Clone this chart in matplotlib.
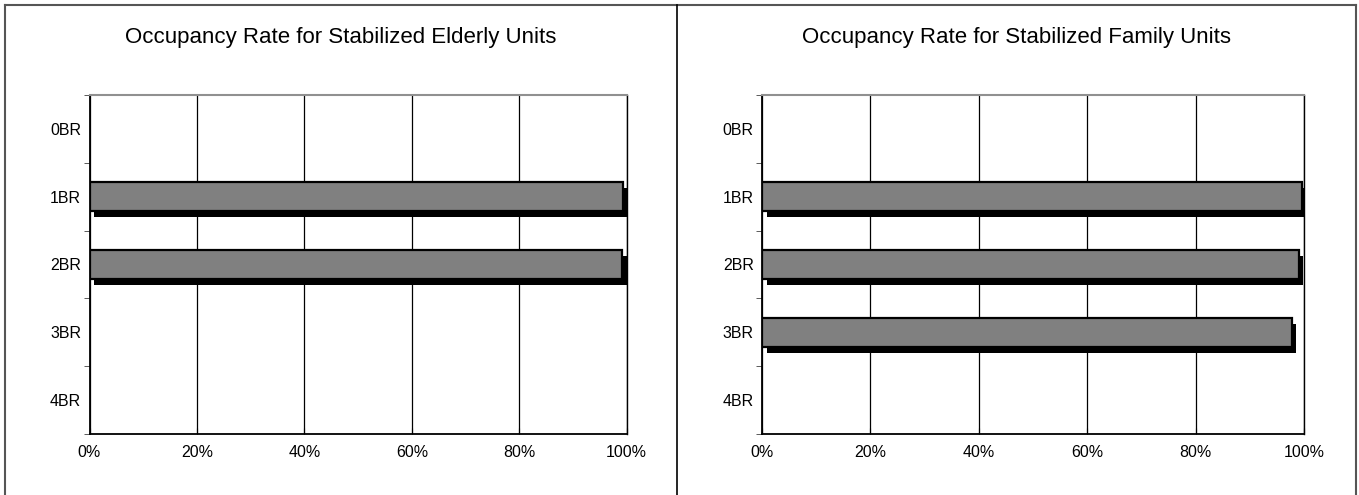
import numpy as np
import matplotlib.pyplot as plt
from matplotlib.lines import Line2D
from matplotlib.ticker import PercentFormatter

plt.rcParams['font.family'] = ['Liberation Sans', 'DejaVu Sans']

categories = ['0BR', '1BR', '2BR', '3BR', '4BR']
elderly = [0.0, 99.4, 99.2, 0.0, 0.0]
family = [0.0, 99.6, 99.0, 97.7, 0.0]
titles = ['Occupancy Rate for Stabilized Elderly Units',
          'Occupancy Rate for Stabilized Family Units']
xticks = [0, 20, 40, 60, 80, 100]

W, H = 1359, 495
fig = plt.figure(figsize=(W / 100, H / 100), dpi=100)


def px(x0, y0, x1, y1):
    # pixel box (top-left origin) -> figure fraction rect
    return [x0 / W, 1 - y1 / H, (x1 - x0) / W, (y1 - y0) / H]


def draw_panel(rect, vals, title, title_x):
    ax = fig.add_axes(rect)
    y = np.arange(len(categories))
    h = 0.42
    # drop shadow: offset a few pixels right/down
    dx = 4.5 / (rect[2] * W) * 100
    dy = 6.0 / (rect[3] * H) * 5
    for yi, v in zip(y, vals):
        if v <= 0:
            continue
        ax.barh(yi + dy, v, height=h, left=dx, color='black', zorder=2)
        ax.barh(yi, v, height=h, color='#808080', edgecolor='black',
                linewidth=1.6, zorder=3)
    ax.set_xlim(0, 100)
    ax.set_ylim(4.5, -0.5)
    ax.set_xticks(xticks)
    ax.xaxis.set_major_formatter(PercentFormatter(decimals=0))
    ax.set_yticks(y)
    ax.set_yticklabels(categories)
    ax.set_yticks(np.arange(-0.5, 5, 1), minor=True)
    ax.tick_params(axis='y', which='major', length=0, pad=6, labelsize=11.5)
    ax.tick_params(axis='y', which='minor', length=4, direction='out', color='#404040')
    ax.tick_params(axis='x', length=4, direction='in', pad=8, labelsize=11.5)
    ax.xaxis.grid(True, color='black', linewidth=0.9, zorder=0)
    ax.set_axisbelow(True)
    ax.spines['right'].set_color('black')
    ax.spines['right'].set_linewidth(1.0)
    ax.spines['top'].set_color('#909090')
    ax.spines['top'].set_linewidth(1.5)
    ax.spines['left'].set_linewidth(1.3)
    ax.spines['bottom'].set_linewidth(1.3)
    fig.text(title_x / W, 1 - 37 / H, title, ha='center', va='center', fontsize=16)
    return ax


draw_panel(px(89.5, 95, 626.7, 434), elderly, titles[0], 341)
draw_panel(px(762, 95, 1304, 434), family, titles[1], 1016)

# outer frame lines
col = '#555555'
fig.add_artist(Line2D([5 / W, 1356 / W], [1 - 5 / H, 1 - 5 / H], color=col, lw=1.5))
fig.add_artist(Line2D([5 / W, 5 / W], [0, 1 - 5 / H], color=col, lw=1.5))
fig.add_artist(Line2D([1356 / W, 1356 / W], [0, 1 - 5 / H], color=col, lw=1.5))
fig.add_artist(Line2D([677 / W, 677 / W], [0, 1 - 5 / H], color='black', lw=1.2))

fig.savefig('out.png', dpi=100)
